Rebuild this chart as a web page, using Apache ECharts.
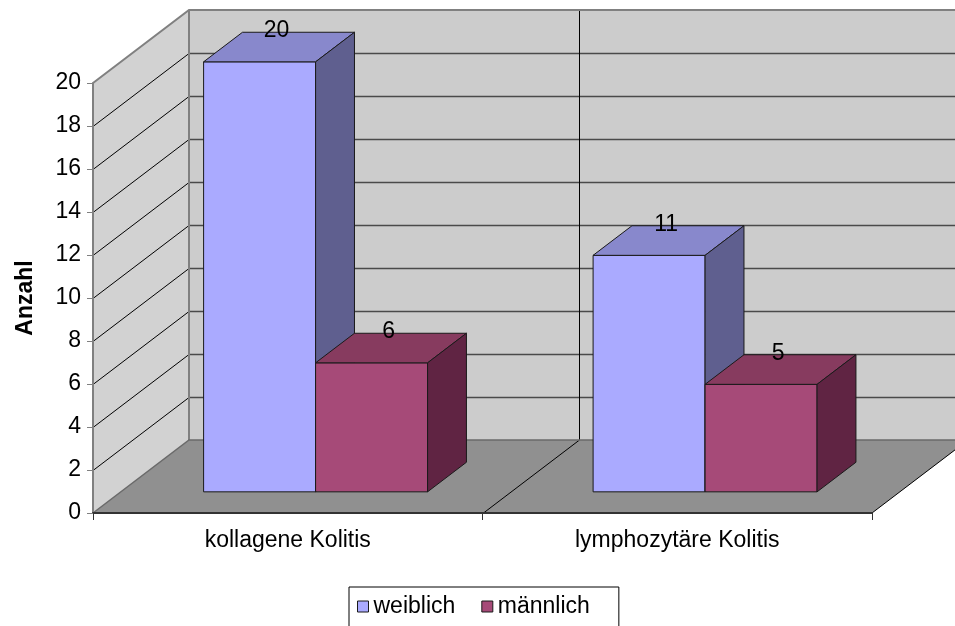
<!DOCTYPE html>
<html>
<head>
<meta charset="utf-8">
<style>
  html, body { margin: 0; padding: 0; background: #ffffff; }
  #chart { width: 955px; height: 626px; }
</style>
<script src="https://cdn.jsdelivr.net/npm/echarts@6/dist/echarts.min.js"></script>
</head>
<body>
<div id="chart"></div>
<script>
// Categories and counts per sex
const categories = ['kollagene Kolitis', 'lymphozytäre Kolitis'];
const weiblich = [20, 11];
const maennlich = [6, 5];
const seriesNames = ['weiblich', 'männlich'];

// Value axis ticks
const yMin = 0;
const yMax = 20;
const yStep = 2;
const yTicks = [0, 2, 4, 6, 8, 10, 12, 14, 16, 18, 20];

// Oblique projection of the depth axis (pixels for full depth)
const DX = 96;
const DY = -73;
// Bars sit between these depth fractions
const F1 = 0.29;
const F2 = 0.695;
// Bar width as fraction of the category band
const BAR_FRAC = 0.2875;

const FONT = '"Liberation Sans", Arial, sans-serif';
const FS = 23;

const palette = {
  weiblich: { front: '#AAAAFF', top: '#8888CC', side: '#5F5F8F' },
  maennlich: { front: '#A64A78', top: '#873B5F', side: '#602443' }
};

const chart = echarts.init(document.getElementById('chart'), null, { renderer: 'canvas' });

// Back wall, left wall, floor and their grid lines
function renderWalls(params, api) {
  const cs = params.coordSys;
  const gx = cs.x, gy = cs.y, gw = cs.width, gh = cs.height;
  const gb = gy + gh;
  const children = [];

  // back wall
  children.push({ type: 'polygon', shape: { points: [[gx + DX, gy + DY], [gx + gw + DX, gy + DY], [gx + gw + DX, gb + DY], [gx + DX, gb + DY]] },
    style: { fill: '#CCCCCC', stroke: null } });
  // left wall
  children.push({ type: 'polygon', shape: { points: [[gx, gy], [gx + DX, gy + DY], [gx + DX, gb + DY], [gx, gb]] },
    style: { fill: '#D2D2D2', stroke: null } });
  // floor
  children.push({ type: 'polygon', shape: { points: [[gx, gb], [gx + DX, gb + DY], [gx + gw + DX, gb + DY], [gx + gw, gb]] },
    style: { fill: '#909090', stroke: null } });

  // horizontal grid lines on both walls
  yTicks.forEach(function (v) {
    if (v === yMin || v === yMax) return;
    const y = Math.round(api.coord([0, v])[1]) + 0.5;
    children.push({ type: 'line', shape: { x1: gx, y1: y, x2: gx + DX, y2: y + DY },
      style: { stroke: '#000000', lineWidth: 1 } });
    children.push({ type: 'line', shape: { x1: gx + DX, y1: y + DY, x2: gx + gw + DX + 20, y2: y + DY },
      style: { stroke: '#4A4A4A', lineWidth: 1.5 } });
  });

  // category divider on floor and back wall
  const band = api.size([1, 0])[0];
  const xd = Math.round(api.coord([0, 0])[0] + band / 2) + 0.5;
  children.push({ type: 'line', shape: { x1: xd, y1: gb, x2: xd + DX, y2: gb + DY },
    style: { stroke: '#000000', lineWidth: 1 } });
  children.push({ type: 'line', shape: { x1: xd + DX, y1: gb + DY, x2: xd + DX, y2: gy + DY },
    style: { stroke: '#000000', lineWidth: 1 } });

  // wall outlines
  children.push({ type: 'polyline', shape: { points: [[gx, gy], [gx + DX, gy + DY], [gx + gw + DX + 20, gy + DY]] },
    style: { stroke: '#808080', lineWidth: 2, fill: null } });
  children.push({ type: 'line', shape: { x1: gx + DX, y1: gy + DY, x2: gx + DX, y2: gb + DY },
    style: { stroke: '#808080', lineWidth: 2 } });
  children.push({ type: 'polyline', shape: { points: [[gx, gb], [gx + DX, gb + DY], [gx + gw + DX + 20, gb + DY]] },
    style: { stroke: '#6A6A6A', lineWidth: 1.5, fill: null } });
  children.push({ type: 'line', shape: { x1: gx + gw, y1: gb, x2: gx + gw + DX, y2: gb + DY },
    style: { stroke: '#000000', lineWidth: 1 } });

  return { type: 'group', children: children };
}

// 3D box for one bar of a series
function makeBarRenderer(slot, colors) {
  return function (params, api) {
    const cat = api.value(0);
    const val = api.value(1);
    const base = api.coord([cat, 0]);
    const top = api.coord([cat, val]);
    const band = api.size([1, 0])[0];
    const w = band * BAR_FRAC;
    const x0 = base[0] - w + slot * w + F1 * DX;
    const x1 = x0 + w;
    const yb = base[1] + F1 * DY;
    const yt = top[1] + F1 * DY;
    const ddx = (F2 - F1) * DX;
    const ddy = (F2 - F1) * DY;
    const edge = { stroke: '#1A1A1A', lineWidth: 1, lineJoin: 'miter' };
    return {
      type: 'group',
      children: [
        { type: 'polygon', shape: { points: [[x0, yt], [x1, yt], [x1, yb], [x0, yb]] },
          style: Object.assign({ fill: colors.front }, edge) },
        { type: 'polygon', shape: { points: [[x0, yt], [x1, yt], [x1 + ddx, yt + ddy], [x0 + ddx, yt + ddy]] },
          style: Object.assign({ fill: colors.top }, edge) },
        { type: 'polygon', shape: { points: [[x1, yt], [x1 + ddx, yt + ddy], [x1 + ddx, yb + ddy], [x1, yb]] },
          style: Object.assign({ fill: colors.side }, edge) },
        { type: 'text', z2: 10,
          style: { text: String(val), x: x0 + w / 2 + 17, y: yt - 31,
            align: 'center', verticalAlign: 'middle', fill: '#000000',
            font: FS + 'px ' + FONT } }
      ]
    };
  };
}

const option = {
  backgroundColor: '#ffffff',
  animation: false,
  grid: { left: 93, right: 83, top: 83, bottom: 113 },
  legend: {
    left: 349, top: 587,
    padding: [8, 29, 20, 8],
    itemGap: 26,
    itemWidth: 11, itemHeight: 11,
    icon: 'rect',
    borderColor: '#000000', borderWidth: 1,
    backgroundColor: '#ffffff',
    textStyle: { fontSize: FS, fontFamily: FONT, color: '#000000' },
    data: [
      { name: seriesNames[0], itemStyle: { color: palette.weiblich.front, borderColor: '#1A1A1A', borderWidth: 1 } },
      { name: seriesNames[1], itemStyle: { color: palette.maennlich.front, borderColor: '#1A1A1A', borderWidth: 1 } }
    ]
  },
  xAxis: {
    type: 'category',
    data: categories,
    z: 10,
    boundaryGap: true,
    axisLine: { show: true, lineStyle: { color: '#333333', width: 2 } },
    axisTick: { show: true, interval: 0, length: 7, inside: false, lineStyle: { color: '#333333', width: 1 } },
    axisLabel: { interval: 0, margin: 16, fontSize: FS, fontFamily: FONT, color: '#000000' },
    splitLine: { show: false }
  },
  yAxis: {
    type: 'value',
    min: yMin, max: yMax, interval: yStep,
    z: 10,
    name: 'Anzahl',
    nameLocation: 'middle',
    nameRotate: 90,
    nameGap: 56,
    nameTextStyle: { fontSize: FS, fontWeight: 'bold', fontFamily: FONT, color: '#000000' },
    axisLine: { show: true, lineStyle: { color: '#808080', width: 2 } },
    axisTick: { show: true, length: 6, lineStyle: { color: '#808080', width: 1 } },
    axisLabel: { margin: 12, fontSize: FS, fontFamily: FONT, color: '#000000' },
    splitLine: { show: false }
  },
  series: [
    {
      type: 'custom',
      name: '_walls',
      z: 1,
      silent: true,
      renderItem: renderWalls,
      data: [[0, 0]],
      encode: { x: 0, y: 1 }
    },
    {
      type: 'custom',
      name: seriesNames[0],
      z: 3,
      itemStyle: { color: palette.weiblich.front },
      renderItem: makeBarRenderer(0, palette.weiblich),
      data: weiblich.map(function (v, i) { return [i, v]; }),
      encode: { x: 0, y: 1 }
    },
    {
      type: 'custom',
      name: seriesNames[1],
      z: 4,
      itemStyle: { color: palette.maennlich.front },
      renderItem: makeBarRenderer(1, palette.maennlich),
      data: maennlich.map(function (v, i) { return [i, v]; }),
      encode: { x: 0, y: 1 }
    }
  ]
};

chart.setOption(option);
</script>
</body>
</html>
